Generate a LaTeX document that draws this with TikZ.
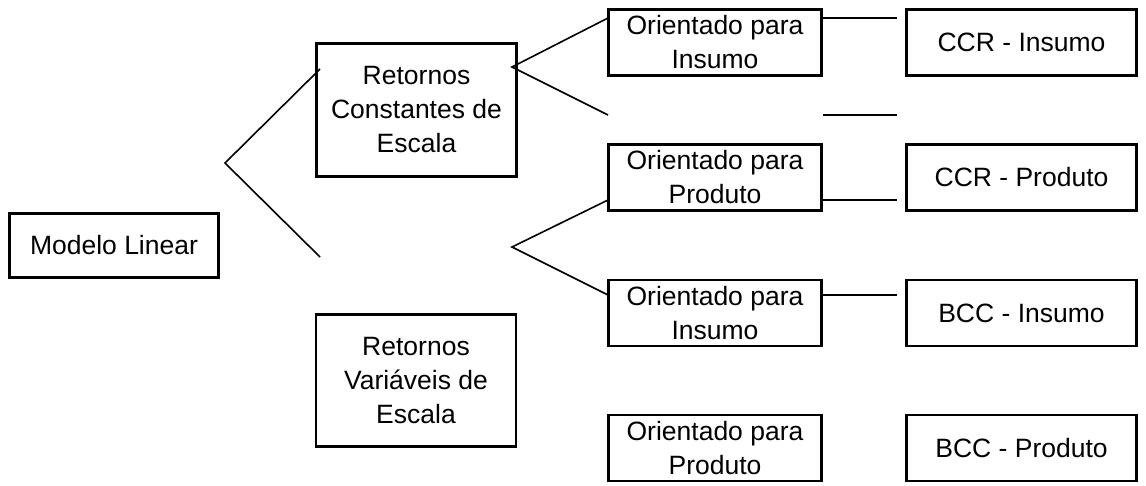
\documentclass[tikz,border=0pt]{standalone}
\usepackage{fontspec}
\setmainfont{Liberation Sans}
\begin{document}
\begin{tikzpicture}[x=1pt,y=-1pt,
  box/.style={draw,line width=2.8pt,inner sep=0pt,align=center,
    font=\fontsize{26.5}{34}\selectfont},
  orient/.style={box,minimum width=213pt,minimum height=66pt},
  result/.style={box,minimum width=230pt,minimum height=66pt},
  conn/.style={line width=1.6pt}]
\useasboundingbox (0,0) rectangle (1146,485);
% nodes
\node[box,minimum width=209pt,minimum height=64pt] (ml) at (114,245.5) {Modelo Linear};
\node[box,minimum width=200pt,minimum height=133pt] (rce) at (416.5,110) {Retornos\\Constantes de\\Escala};
\node[box,minimum width=200pt,minimum height=132pt] (rve) at (416,380.5) {Retornos\\Variáveis de\\Escala};
\node[orient] (oi1) at (715,42.5) {Orientado para\\Insumo};
\node[orient] (op1) at (715,177.5) {Orientado para\\Produto};
\node[orient] (oi2) at (715,313) {Orientado para\\Insumo};
\node[orient] (op2) at (715,448) {Orientado para\\Produto};
\node[result] (ccri) at (1021.5,42.5) {CCR - Insumo};
\node[result] (ccrp) at (1021.5,177.5) {CCR - Produto};
\node[result] (bcci) at (1021.5,313) {BCC - Insumo};
\node[result] (bccp) at (1021.5,448) {BCC - Produto};
% free connector ends
\coordinate (f0) at (225,163);
\coordinate (a0) at (320,69);
\coordinate (b0) at (320,257);
\coordinate (f1) at (512,67);
\coordinate (a1) at (608,18);
\coordinate (b1) at (608,115);
\coordinate (f2) at (512,247);
\coordinate (a2) at (608,200);
\coordinate (b2) at (608,295);
\coordinate (r1a) at (823,18);  \coordinate (r1b) at (897,18);
\coordinate (r2a) at (823,115); \coordinate (r2b) at (897,115);
\coordinate (r3a) at (823,200); \coordinate (r3b) at (897,200);
\coordinate (r4a) at (823,295); \coordinate (r4b) at (897,295);
% connectors
\draw[conn] (a0) -- (f0) -- (b0);
\draw[conn] (a1) -- (f1) -- (b1);
\draw[conn] (a2) -- (f2) -- (b2);
\draw[conn] (r1a) -- (r1b);
\draw[conn] (r2a) -- (r2b);
\draw[conn] (r3a) -- (r3b);
\draw[conn] (r4a) -- (r4b);
\end{tikzpicture}
\end{document}
